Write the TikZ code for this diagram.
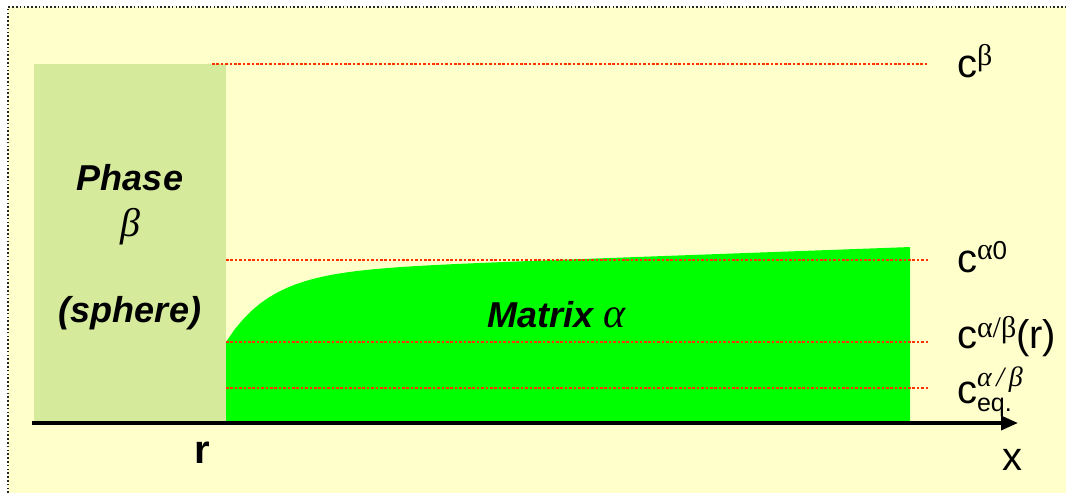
\documentclass[tikz,border=0pt]{standalone}
\usepackage{fontspec}
\setmainfont{Liberation Sans}
\newfontfamily\grkfont{Liberation Serif}
\usetikzlibrary{arrows.meta,positioning}
\definecolor{bgyellow}{RGB}{255,255,204}
\definecolor{phasegreen}{RGB}{214,234,155}
\definecolor{matrixgreen}{RGB}{0,255,0}
\definecolor{levelred}{RGB}{255,51,0}
\newcommand{\fsz}[1]{\fontsize{#1}{#1}\selectfont}

\begin{document}
\begin{tikzpicture}[x=1pt,y=-1pt,every node/.style={inner sep=0pt,outer sep=0pt},
lab/.style={anchor=base west,font=\fsz{40}},
level/.style={levelred,line width=2.6pt,dash pattern=on 2.6pt off 1.8pt},
axis/.style={line width=3.5pt,-{Triangle[length=17pt,width=14pt]}}]
\useasboundingbox (0,0) rectangle (1066,493);
\fill[white] (0,0) rectangle (1066,493);
\fill[bgyellow] (8,7) rectangle (1066,493);
\draw[black!85,line width=1.6pt,dash pattern=on 1.6pt off 2.2pt] (8,493) -- (8,7) -- (1066,7);
% phase beta and matrix alpha
\fill[phasegreen] (34,64) rectangle (226,421);
\fill[matrixgreen] (226,421) -- (226,342)
  -- plot[domain=226:910,samples=80] (\x,{342-70*(1-exp(-(\x-226)/45))-0.0365*(\x-226)})
  -- (910,421) -- cycle;
% concentration levels
\coordinate (Lb) at (212,64);   \coordinate (Rb) at (928,64);
\coordinate (La) at (226,260);  \coordinate (Ra) at (928,260);
\coordinate (Lr) at (226,342);  \coordinate (Rr) at (928,342);
\coordinate (Le) at (226,388);  \coordinate (Re) at (928,388);
\draw[level] (Lb) -- (Rb);
\draw[level] (La) -- (Ra);
\draw[level] (Lr) -- (Rr);
\draw[level] (Le) -- (Re);
% axis
\coordinate (O) at (32,423);
\coordinate (X) at (1018,423);
\draw[axis] (O) -- (X);
% labels
\node[lab] (cb) at (957,77) {c\raisebox{12pt}{\grkfont\fsz{30}β}};
\node[lab] (ca) at (957,272) {c\raisebox{13pt}{\fsz{26}{\grkfont\fsz{30}α}0}};
\node[lab] (cr) at (957,348) {c\raisebox{11pt}{\grkfont\fsz{30}α/β}(r)};
\node[lab] (ce) at (957,403) {c\rlap{\raisebox{17pt}{\grkfont\itshape\fsz{28}α\,/\,β}}\raisebox{-8pt}{\fsz{25}eq.}};
\node[anchor=base,font=\fsz{40}] (xl) at (1012,470) {x};
\node[anchor=base,font=\fsz{40}\bfseries] (rl) at (202,463) {r};
\node[anchor=base,font=\fsz{36}\bfseries\itshape] (ph) at (130,190) {Phase};
\node[anchor=base,font=\fsz{40}\grkfont\itshape] (pb) at (130,236) {β};
\node[anchor=base,font=\fsz{36}\bfseries\itshape] (sp) at (130,322) {(sphere)};
\node[anchor=base,font=\fsz{36}\bfseries\itshape] (mx) at (557,327) {Matrix {\grkfont\fsz{42}\mdseries α}};
\end{tikzpicture}
\end{document}
